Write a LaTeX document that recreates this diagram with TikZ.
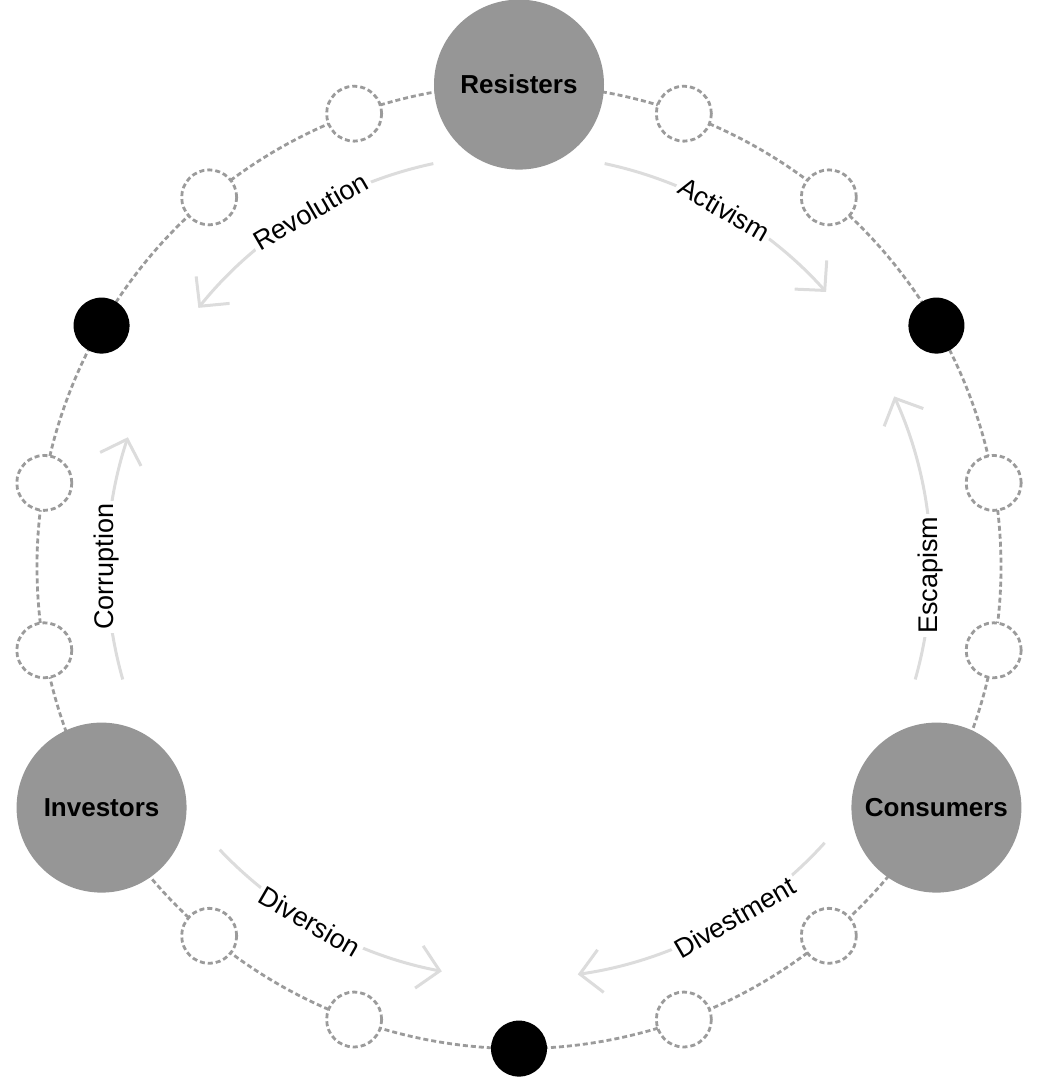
\documentclass[tikz,border=0pt]{standalone}
\usepackage{fontspec}
\setmainfont{Liberation Sans}
\usetikzlibrary{arrows.meta,backgrounds}
\definecolor{bigfill}{RGB}{150,150,150}
\definecolor{dashgray}{RGB}{155,155,155}
\definecolor{arrowgray}{RGB}{220,220,220}
\tikzset{
  ring/.style={draw=dashgray,line width=2.8pt,dash pattern=on 5pt off 3pt},
  bignode/.style={circle,fill=bigfill,minimum size=170pt,inner sep=0pt,
     font=\fontsize{26}{30}\selectfont\bfseries,text=black},
  dotnode/.style={circle,fill=black,minimum size=56pt,inner sep=0pt},
  smallnode/.style={circle,draw=dashgray,fill=white,line width=2.8pt,
     dash pattern=on 5pt off 3pt,minimum size=55pt,inner sep=0pt},
  flow/.style={draw=arrowgray,line width=3pt,
     -{Straight Barb[length=21pt,width=43pt]}},
  flowlabel/.style={fill=white,inner sep=3pt,text=black,
     font=\fontsize{27}{32}\selectfont}
}
\begin{document}
\begin{tikzpicture}
\useasboundingbox (-519pt,-511.4pt) rectangle (520pt,566.6pt);
% main nodes
\node[bignode] (n90) at (90:482pt) {Resisters};
\node[bignode] (n210) at (210:482pt) {Investors};
\node[bignode] (n330) at (330:482pt) {Consumers};
\node[dotnode] (n30) at (30:482pt) {};
\node[dotnode] (n150) at (150:482pt) {};
\node[dotnode] (n270) at (270:482pt) {};
\foreach \a in {10,50,70,110,130,170,190,230,250,290,310,350}
  \node[smallnode] (n\a) at (\a:482pt) {};
% ring
\begin{pgfonlayer}{background}
\foreach \a/\b in {10/30,30/50,50/70,70/90,90/110,110/130,130/150,150/170,170/190,190/210,210/230,230/250,250/270,270/290,290/310,310/330,330/350}
  \draw[ring] (n\a.center) arc[start angle=\a,end angle=\b,radius=482pt];
\draw[ring] (n350.center) arc[start angle=350,end angle=370,radius=482pt];
\end{pgfonlayer}
% flow arcs
\coordinate (revS) at (102:412pt);
\coordinate (actS) at (78:412pt);
\coordinate (escS) at (-15.9:412pt);
\coordinate (corS) at (195.9:412pt);
\coordinate (divS) at (223.4:412pt);
\coordinate (dvmS) at (317.9:412pt);
\draw[flow] (revS) arc[start angle=102,end angle=141.1,radius=412pt];
\draw[flow] (actS) arc[start angle=78,end angle=41.8,radius=412pt];
\draw[flow] (escS) arc[start angle=-15.9,end angle=24.4,radius=412pt];
\draw[flow] (corS) arc[start angle=195.9,end angle=161.7,radius=412pt];
\draw[flow] (divS) arc[start angle=223.4,end angle=259.2,radius=412pt];
\draw[flow] (dvmS) arc[start angle=317.9,end angle=278.2,radius=412pt];
% labels
\node[flowlabel,rotate=30] (lrev) at (120.4:412pt) {Revolution};
\node[flowlabel,rotate=-30] (lact) at (60.1:412pt) {Activism};
\node[flowlabel,rotate=90] (lesc) at (-1.2:412pt) {Escapism};
\node[flowlabel,rotate=90] (lcor) at (180:412pt) {Corruption};
\node[flowlabel,rotate=-30] (ldiv) at (239.5:412pt) {Diversion};
\node[flowlabel,rotate=30] (ldvm) at (301.6:412pt) {Divestment};
\end{tikzpicture}
\end{document}
